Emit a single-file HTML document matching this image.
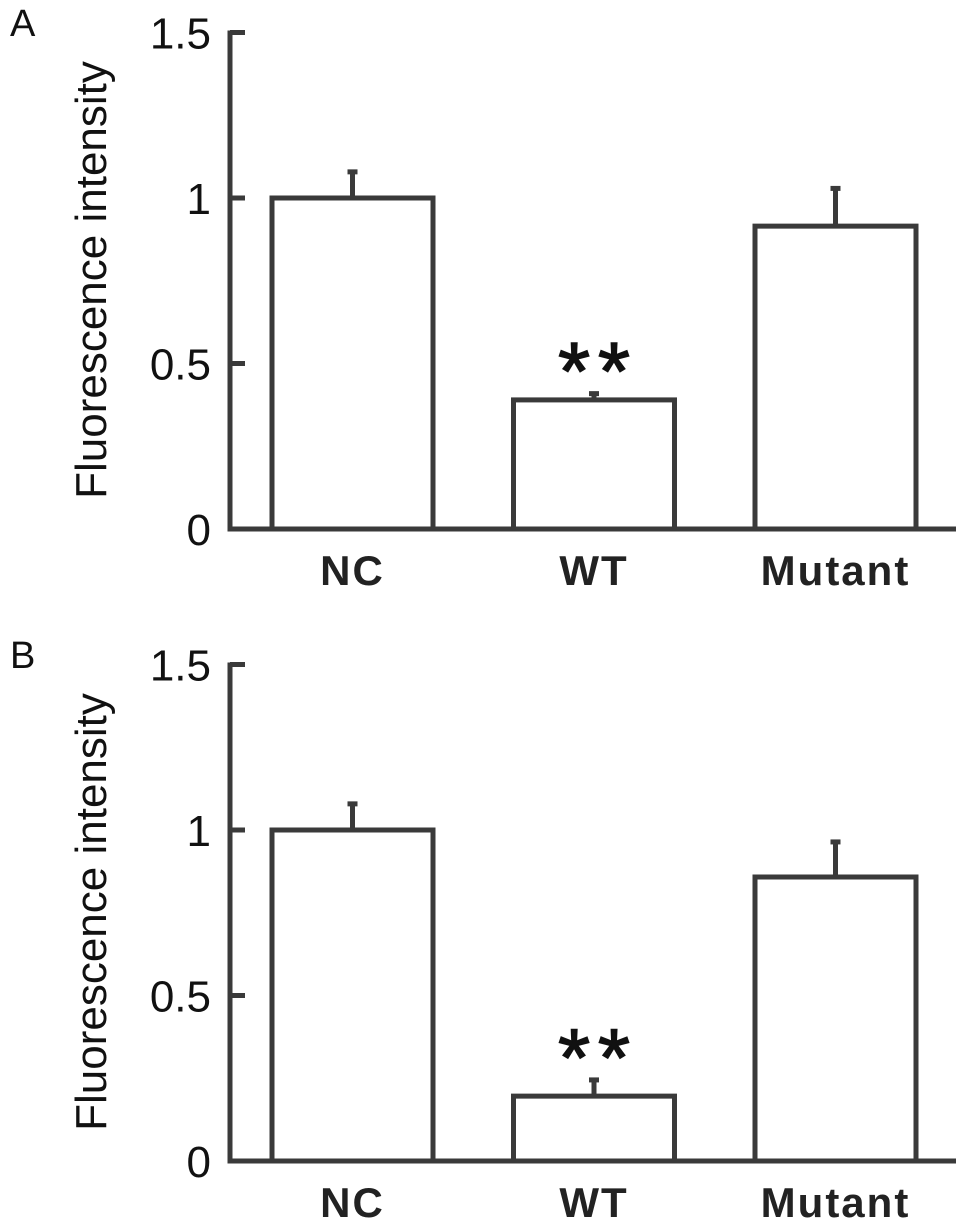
<!DOCTYPE html>
<html><head><meta charset="utf-8"><style>
html,body{margin:0;padding:0;background:#fff;}
svg{display:block;font-family:"Liberation Sans",sans-serif;}
</style></head><body>
<svg id="chart" width="969" height="1227" viewBox="0 0 969 1227"></svg>
<script>
const categories = ["NC","WT","Mutant"];
const valuesA = [1.0, 0.39, 0.915];
const errorsA = [0.085, 0.025, 0.12];
const valuesB = [1.0, 0.196, 0.858];
const errorsB = [0.085, 0.055, 0.112];
const yTicks = [0, 0.5, 1, 1.5];
const yTickLabels = ["0","0.5","1","1.5"];
const sigA = ["", "**", ""];
const sigB = ["", "**", ""];

const NS = "http://www.w3.org/2000/svg";
const svg = document.getElementById("chart");
const C = "#3a3a3a";
function mk(tag, attrs, parent){
  const e = document.createElementNS(NS, tag);
  for (const k in attrs) e.setAttribute(k, attrs[k]);
  (parent||svg).appendChild(e);
  return e;
}
function drawPanel(letter, off, values, errors, sig){
  const g = mk("g", {});
  
  
  const y = v => off + 529 - v * 331;
  const barX = i => 272 + i * 241.5;
  const barW = 161;
  const pl = mk("text", {x: 10, y: off + 36, "font-size": 38, fill: "#111"}, g);
  pl.textContent = letter;
  
  
  const yt = mk("text", {x: 0, y: 0, "font-size": 44, fill: "#111", "text-anchor": "middle",
    transform: `translate(106,${off + 280}) rotate(-90)`}, g);
  yt.textContent = "Fluorescence intensity";
  
  
  const ax = mk("line", {x1: 230, y1: y(1.5) - 2, x2: 230, y2: y(0) + 2.5, stroke: C, "stroke-width": 5}, g);
  
  
  const bl = mk("line", {x1: 228, y1: y(0), x2: 956, y2: y(0), stroke: C, "stroke-width": 5}, g);
  
  
  yTicks.forEach((t, i) => {
    const tk = mk("line", {x1: 230, y1: y(t), x2: 245, y2: y(t), stroke: C, "stroke-width": 5}, g);
    
    
    const tl = mk("text", {x: 211, y: y(t) + 16, "font-size": 44, fill: "#111", "text-anchor": "end"}, g);
    tl.textContent = yTickLabels[i];
    
    
  });
  categories.forEach((c, i) => {
    const x = barX(i);
    const cx = x + barW / 2;
    const eb = mk("line", {x1: cx, y1: y(values[i]), x2: cx, y2: y(values[i] + errors[i]), stroke: C, "stroke-width": 5}, g);
    
    
    const cap = mk("line", {x1: cx - 5, y1: y(values[i] + errors[i]) + 2, x2: cx + 5, y2: y(values[i] + errors[i]) + 2, stroke: C, "stroke-width": 5}, g);
    
    
    const r = mk("rect", {x: x, y: y(values[i]), width: barW, height: y(0) - y(values[i]), fill: "#fff", stroke: C, "stroke-width": 5}, g);
    
    
    const lb = mk("text", {x: cx, y: y(0) + 56, "font-size": 42, "font-weight": "bold", "letter-spacing": 2, fill: "#222", "text-anchor": "middle"}, g);
    lb.textContent = c;
    
    
    if (sig[i]) {
      const s = mk("text", {x: cx + 4, y: y(values[i] + errors[i]) + 8, "font-size": 82, fill: "#111", "letter-spacing": 8, "stroke": "#111", "stroke-width": 1.5, "text-anchor": "middle"}, g);
      s.textContent = sig[i];
      
      
    }
  });
}
drawPanel("A", 0, valuesA, errorsA, sigA);
drawPanel("B", 632, valuesB, errorsB, sigB);
</script>
</body></html>
